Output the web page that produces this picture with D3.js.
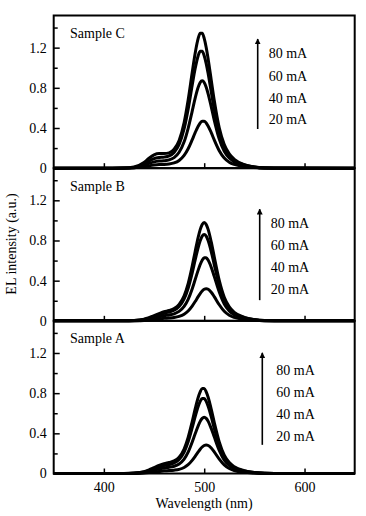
<!DOCTYPE html>
<html><head><meta charset="utf-8">
<script src="https://cdn.jsdelivr.net/npm/d3@7"></script>
<style>
html,body{margin:0;padding:0;background:#fff;}
svg{display:block;}
text{font-family:"Liberation Serif","Times New Roman",serif;fill:#000;}
</style></head>
<body>
<svg id="chart" width="366" height="516"></svg>
<script>
// ---------------- DATA ----------------
const wavelengths = [350,400,420,430,440,445,450,455,460,465,470,475,480,484,488,491,494,496,498,500,502,504,507,510,515,520,525,530,540,550,560,580,650];
const currents = ["80 mA","60 mA","40 mA","20 mA"];
const samples = ["Sample C","Sample B","Sample A"];

const sampleC_80 = [0,0,0.001,0.011,0.056,0.099,0.132,0.145,0.145,0.152,0.188,0.276,0.455,0.679,0.950,1.145,1.292,1.343,1.343,1.292,1.202,1.083,0.879,0.676,0.402,0.235,0.142,0.088,0.036,0.012,0.003,0.001,0];
const sampleC_60 = [0,0,0.001,0.008,0.040,0.070,0.095,0.106,0.110,0.122,0.157,0.236,0.393,0.588,0.824,0.992,1.120,1.164,1.164,1.120,1.041,0.938,0.762,0.586,0.349,0.204,0.123,0.076,0.032,0.011,0.002,0.001,0];
const sampleC_40 = [0,0,0.001,0.005,0.026,0.047,0.063,0.071,0.074,0.082,0.105,0.158,0.262,0.397,0.566,0.698,0.806,0.853,0.870,0.853,0.806,0.738,0.612,0.479,0.289,0.168,0.101,0.063,0.026,0.009,0.002,0,0];
const sampleC_20 = [0,0,0,0.003,0.013,0.023,0.031,0.036,0.037,0.041,0.052,0.077,0.127,0.193,0.282,0.354,0.418,0.450,0.468,0.468,0.450,0.418,0.354,0.282,0.174,0.101,0.060,0.037,0.016,0.006,0.001,0,0];

const sampleB_80 = [0,0,0,0.004,0.017,0.032,0.051,0.071,0.090,0.103,0.122,0.164,0.249,0.371,0.543,0.691,0.832,0.908,0.960,0.980,0.960,0.908,0.786,0.638,0.403,0.235,0.139,0.084,0.035,0.013,0.003,0,0];
const sampleB_60 = [0,0,0,0.003,0.014,0.026,0.043,0.059,0.076,0.088,0.105,0.142,0.218,0.325,0.476,0.606,0.730,0.797,0.843,0.860,0.843,0.797,0.690,0.560,0.353,0.206,0.122,0.074,0.031,0.011,0.003,0,0];
const sampleB_40 = [0,0,0,0.002,0.009,0.017,0.029,0.040,0.051,0.059,0.070,0.094,0.143,0.214,0.318,0.411,0.505,0.561,0.603,0.627,0.627,0.603,0.534,0.443,0.287,0.168,0.099,0.060,0.025,0.009,0.002,0,0];
const sampleB_20 = [0,0,0,0.001,0.004,0.008,0.014,0.019,0.025,0.028,0.033,0.044,0.066,0.098,0.147,0.192,0.241,0.271,0.297,0.314,0.320,0.314,0.285,0.241,0.160,0.095,0.056,0.034,0.013,0.005,0.001,0,0];

const sampleA_80 = [0,0,0,0.004,0.019,0.036,0.058,0.080,0.098,0.110,0.125,0.162,0.244,0.359,0.515,0.643,0.757,0.813,0.846,0.846,0.813,0.757,0.641,0.510,0.315,0.183,0.109,0.067,0.028,0.010,0.002,0,0];
const sampleA_60 = [0,0,0,0.003,0.015,0.029,0.046,0.064,0.079,0.090,0.105,0.140,0.213,0.316,0.454,0.567,0.668,0.718,0.746,0.746,0.718,0.668,0.566,0.450,0.278,0.161,0.096,0.059,0.025,0.009,0.002,0,0];
const sampleA_40 = [0,0,0,0.002,0.011,0.020,0.032,0.044,0.055,0.062,0.072,0.095,0.143,0.212,0.311,0.395,0.475,0.519,0.549,0.560,0.549,0.519,0.449,0.365,0.230,0.134,0.080,0.048,0.020,0.007,0.002,0,0];
const sampleA_20 = [0,0,0,0.001,0.005,0.010,0.016,0.021,0.027,0.029,0.033,0.041,0.060,0.088,0.131,0.171,0.215,0.242,0.264,0.279,0.285,0.279,0.254,0.215,0.143,0.085,0.050,0.030,0.012,0.005,0.001,0,0];

const xTicks = [400,500,600];
const yMajorTicks = [0,0.4,0.8,1.2];
const yMinorTicks = [0.2,0.6,1.0,1.4];

const panelSeries = [
  [sampleC_80,sampleC_60,sampleC_40,sampleC_20],
  [sampleB_80,sampleB_60,sampleB_40,sampleB_20],
  [sampleA_80,sampleA_60,sampleA_40,sampleA_20]
];

// ---------------- LAYOUT ----------------
const svg = d3.select("#chart");
const left = 53.7, right = 354.7, top0 = 15.5, panelH = 152.67;
const x = d3.scaleLinear().domain([350,650]).range([left,right]);

// per-panel annotation layout (relative to panel top)
const annot = [
  {arrowX:257.7, tip:23.5, tail:113.5, labX:268.7, labY:[42.5,65,87,108.5]},
  {arrowX:259.7, tip:41,   tail:132,   labX:270.7, labY:[60,82,104,126]},
  {arrowX:262.3, tip:32,   tail:124,   labX:276.3, labY:[54,76,98,120]}
];

svg.append("defs").append("marker")
  .attr("id","arrowhead").attr("viewBox","0 0 10 10")
  .attr("refX",9).attr("refY",5)
  .attr("markerWidth",6).attr("markerHeight",6)
  .attr("markerUnits","userSpaceOnUse")
  .attr("orient","auto")
  .append("path").attr("d","M0,0 L10,5 L0,10 Z").attr("fill","#000");

samples.forEach((name,i)=>{
  const pTop = top0 + i*panelH, pBot = pTop + panelH;
  const y = d3.scaleLinear().domain([0,1.52]).range([pBot,pTop]);
  const g = svg.append("g");

  // curves
  const line = d3.line()
    .x((d,k)=>x(wavelengths[k]))
    .y(d=>y(d))
    .curve(d3.curveMonotoneX);
  panelSeries[i].slice().reverse().forEach(series=>{
    g.append("path").datum(series)
      .attr("d",line).attr("fill","none")
      .attr("stroke","#000").attr("stroke-width",3)
      .attr("stroke-linejoin","round");
  });

  // y axis major (inward)
  const yAx = g.append("g").attr("transform",`translate(${left},0)`)
    .call(d3.axisLeft(y).tickValues(yMajorTicks).tickSize(-6).tickPadding(7)
      .tickFormat(d=>d===0?"0":d3.format(".1f")(d)));
  yAx.select(".domain").remove();
  yAx.selectAll("line").attr("stroke-width",1.5);
  yAx.selectAll("text").style("font-size","14px").attr("font-family","Liberation Serif, serif");

  const yMin = g.append("g").attr("transform",`translate(${left},0)`)
    .call(d3.axisLeft(y).tickValues(yMinorTicks).tickSize(-4).tickFormat(""));
  yMin.select(".domain").remove();
  yMin.selectAll("line").attr("stroke-width",1.5);

  // x axis (inward ticks)
  const xAx = g.append("g").attr("transform",`translate(0,${pBot})`)
    .call(d3.axisBottom(x).tickValues(xTicks).tickSize(-5).tickPadding(9)
      .tickFormat(i===2 ? d3.format("d") : ""));
  xAx.select(".domain").remove();
  xAx.selectAll("line").attr("stroke-width",1.5);
  xAx.selectAll("text").style("font-size","14px").attr("font-family","Liberation Serif, serif");

  // frame
  g.append("rect").attr("x",left).attr("y",pTop)
    .attr("width",right-left).attr("height",panelH)
    .attr("fill","none").attr("stroke","#000").attr("stroke-width",2);

  // sample label
  g.append("text").attr("x",70).attr("y",pTop+22.5)
    .style("font-size","14px").text(name);

  // arrow and current labels
  const a = annot[i];
  g.append("line").attr("x1",a.arrowX).attr("x2",a.arrowX)
    .attr("y1",pTop+a.tail).attr("y2",pTop+a.tip)
    .attr("stroke","#000").attr("stroke-width",1.6)
    .attr("marker-end","url(#arrowhead)");
  currents.forEach((c,k)=>{
    g.append("text").attr("x",a.labX).attr("y",pTop+a.labY[k])
      .style("font-size","14px").text(c);
  });
});

// axis titles
svg.append("text").attr("x",204).attr("y",508).attr("text-anchor","middle")
  .style("font-size","14px").text("Wavelength (nm)");
svg.append("text").attr("transform","translate(16,244) rotate(-90)")
  .attr("text-anchor","middle").style("font-size","14px").text("EL intensity (a.u.)");
</script>
</body></html>
